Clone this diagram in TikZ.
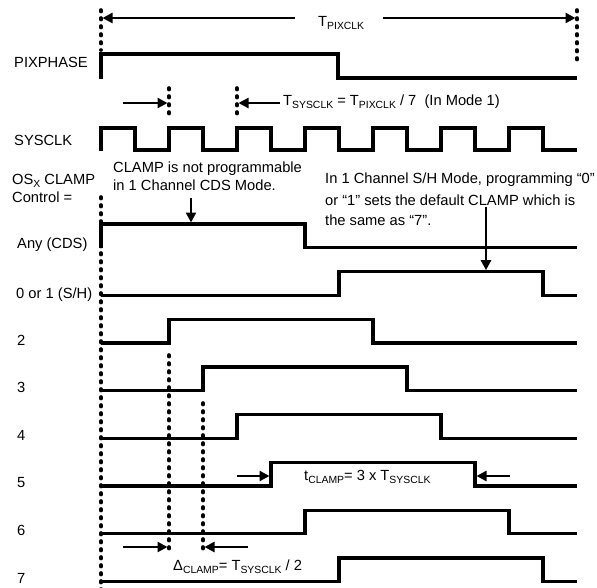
\documentclass[tikz,border=0pt]{standalone}
\usepackage{fontspec}
\setmainfont{Liberation Sans}
\usetikzlibrary{arrows.meta}
\newcommand\lowsub[1]{\raisebox{-3.3pt}{\fontsize{10.4}{10.4}\selectfont #1}}
\begin{document}
\begin{tikzpicture}[x=1pt,y=-1pt,
  sig/.style={line width=3.3pt, line join=miter},
  dotv/.style={line width=3.6pt, line cap=round, dash pattern=on 1.6pt off 6.4pt},
  arr/.style={line width=2.3pt, -{Triangle[length=10pt,width=10pt]}},
  lbl/.style={inner sep=0pt, anchor=base west, font=\fontsize{14.7}{17}\selectfont}]
\useasboundingbox (0,0) rectangle (597,587);
% dotted markers
\draw[dotv] (101,10) -- (101,50);
\draw[dotv] (101,197) -- (101,590);
\draw[dotv] (577,10) -- (577,62);
\draw[dotv] (169,88) -- (169,118);
\draw[dotv] (237,88) -- (237,118);
\draw[dotv] (169,355) -- (169,552);
\draw[dotv] (203,403) -- (203,552);
% PIXPHASE
\draw[sig] (101,79) -- (101,54) -- (338,54) -- (338,78) -- (577,78);
% SYSCLK
\draw[sig] (101,151) -- (101,128) -- (135,128) -- (135,150)
  -- (169,150) -- (169,128) -- (203,128) -- (203,150)
  -- (237,150) -- (237,128) -- (271,128) -- (271,150)
  -- (305,150) -- (305,128) -- (339,128) -- (339,150)
  -- (373,150) -- (373,128) -- (407,128) -- (407,150)
  -- (441,150) -- (441,128) -- (475,128) -- (475,150)
  -- (509,150) -- (509,128) -- (543,128) -- (543,150) -- (577,150);
% Any (CDS)
\draw[sig] (101,247.5) -- (101,224) -- (305,224) -- (305,247.5) -- (577,247.5);
% 0 or 1 (S/H)
\draw[sig] (101,295.2) -- (339,295.2) -- (339,271.7) -- (543,271.7) -- (543,295.2) -- (577,295.2);
% rows 2..7
\foreach \k in {2,...,7}{
  \pgfmathsetmacro\hy{224+47.7*\k}
  \pgfmathsetmacro\ly{\hy+23.5}
  \pgfmathsetmacro\rx{169+34*(\k-2)}
  \pgfmathsetmacro\fx{\rx+204}
  \draw[sig] (101,\ly) -- (\rx,\ly) -- (\rx,\hy) -- (\fx,\hy) -- (\fx,\ly) -- (577,\ly);
}
% left labels
\node[lbl] (pix) at (14,67) {PIXPHASE};
\node[lbl] (sys) at (14,145) {SYSCLK};
\node[lbl] (osx) at (12,184) {OS\lowsub{X} CLAMP};
\node[lbl] (ctl) at (12,202) {Control =};
\node[lbl] (any) at (17,248) {Any (CDS)};
\node[lbl] (sh) at (16,298) {0 or 1 (S/H)};
\node[lbl] (r2) at (17,345) {2};
\node[lbl] (r3) at (17,392) {3};
\node[lbl] (r4) at (17,440) {4};
\node[lbl] (r5) at (17,487) {5};
\node[lbl] (r6) at (17,535) {6};
\node[lbl] (r7) at (17,583) {7};
% annotations
\node[lbl] (tpix) at (318,26) {T\lowsub{PIXCLK}};
\node[lbl] (tsys) at (283,105) {T\lowsub{SYSCLK} = T\lowsub{PIXCLK} / 7 \ (In Mode 1)};
\node[lbl] (cl1) at (113,172) {CLAMP is not programmable};
\node[lbl] (cl2) at (113,190) {in 1 Channel CDS Mode.};
\node[lbl] (sh1) at (325,183) {In 1 Channel S/H Mode, programming “0”};
\node[lbl] (sh2) at (325,205) {or “1” sets the default CLAMP which is};
\node[lbl] (sh3) at (325,225) {the same as “7”.};
\node[lbl] (tcl) at (304,480) {t\lowsub{CLAMP}= 3 x T\lowsub{SYSCLK}};
\node[lbl] (dcl) at (173,570) {Δ\lowsub{CLAMP}= T\lowsub{SYSCLK} / 2};
% arrow coordinates
\coordinate (p1s) at (295,18); \coordinate (p1e) at (102.5,18);
\coordinate (p2s) at (383,18); \coordinate (p2e) at (575.5,18);
\coordinate (s1s) at (123,103); \coordinate (s1e) at (167.5,103);
\coordinate (s2s) at (280,103); \coordinate (s2e) at (238.5,103);
\coordinate (c1s) at (191,198); \coordinate (c1e) at (191,222.5);
\coordinate (h1s) at (486,207); \coordinate (h1e) at (486,270.2);
\coordinate (t1s) at (237,476); \coordinate (t1e) at (269.5,476);
\coordinate (t2s) at (510,476); \coordinate (t2e) at (476.5,476);
\coordinate (d1s) at (123,547); \coordinate (d1e) at (167.5,547);
\coordinate (d2s) at (248,547); \coordinate (d2e) at (204.5,547);
\draw[arr] (p1s) -- (p1e);
\draw[arr] (p2s) -- (p2e);
\draw[arr] (s1s) -- (s1e);
\draw[arr] (s2s) -- (s2e);
\draw[arr] (c1s) -- (c1e);
\draw[arr] (h1s) -- (h1e);
\draw[arr] (t1s) -- (t1e);
\draw[arr] (t2s) -- (t2e);
\draw[arr] (d1s) -- (d1e);
\draw[arr] (d2s) -- (d2e);
\end{tikzpicture}
\end{document}
